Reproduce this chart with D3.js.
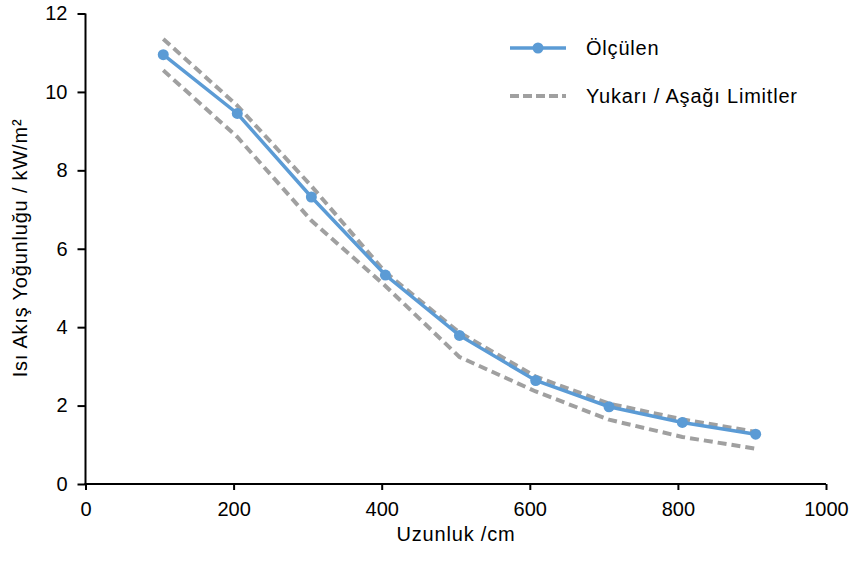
<!DOCTYPE html>
<html><head><meta charset="utf-8">
<script src="https://cdn.jsdelivr.net/npm/d3@7"></script>
<style>body{margin:0;background:#fff}svg{display:block}text{font-family:"Liberation Sans",Arial,sans-serif}</style>
</head><body>
<svg id="c" width="865" height="563"></svg>
<script>
const xVals = [105, 205, 305, 405, 505, 608, 707, 806, 905];
const measured = [10.95, 9.45, 7.32, 5.33, 3.79, 2.64, 1.97, 1.57, 1.27];
const upper = [11.35, 9.65, 7.6, 5.4, 3.86, 2.74, 2.05, 1.65, 1.33];
const lower = [10.55, 8.85, 6.72, 5.05, 3.24, 2.36, 1.64, 1.2, 0.9];
const xTicks = [0, 200, 400, 600, 800, 1000];
const yTicks = [0, 2, 4, 6, 8, 10, 12];
const legendLabels = ["Ölçülen", "Yukarı / Aşağı Limitler"];
const xTitle = "Uzunluk /cm";
const yTitle = "Isı Akış Yoğunluğu / kW/m²";

const svg = d3.select("#c");
const x = d3.scaleLinear().domain([0, 1000]).range([85.5, 826]);
const y = d3.scaleLinear().domain([0, 12]).range([484, 13.5]);
const blue = "#5B9BD5", gray = "#A0A0A0";
const FF = '"Liberation Sans",Arial,sans-serif';

const xa = svg.append("g").attr("transform", "translate(0,484)")
  .call(d3.axisBottom(x).tickValues(xTicks).tickSize(6).tickPadding(12).tickFormat(d3.format("d")));
const ya = svg.append("g").attr("transform", "translate(85.5,0)")
  .call(d3.axisLeft(y).tickValues(yTicks).tickSize(8).tickPadding(10).tickFormat(d3.format("d")));
[xa, ya].forEach(a => {
  a.attr("font-size", 20).attr("font-family", FF);
  a.select(".domain").attr("stroke", "#000").attr("stroke-width", 2);
  a.selectAll(".tick line").attr("stroke", "#000").attr("stroke-width", 2);
  a.selectAll(".tick text").attr("fill", "#000");
});
xa.select(".domain").attr("d", "M84.5,0H826");
ya.select(".domain").attr("d", "M0,485V13.5");

const line = d3.line().x((d, i) => x(xVals[i])).y(d => y(d));
[upper, lower].forEach(s => svg.append("path").attr("d", line(s)).attr("fill", "none")
  .attr("stroke", gray).attr("stroke-width", 4).attr("stroke-dasharray", "9,5"));
svg.append("path").attr("d", line(measured)).attr("fill", "none")
  .attr("stroke", blue).attr("stroke-width", 3.5);
svg.selectAll("circle.m").data(measured).enter().append("circle")
  .attr("cx", (d, i) => x(xVals[i])).attr("cy", d => y(d)).attr("r", 5.5).attr("fill", blue);

// legend
const lg = svg.append("g");
lg.append("line").attr("x1", 510).attr("x2", 566).attr("y1", 48).attr("y2", 48)
  .attr("stroke", blue).attr("stroke-width", 3.5);
lg.append("circle").attr("cx", 538).attr("cy", 48).attr("r", 5.5).attr("fill", blue);
lg.append("line").attr("x1", 510).attr("x2", 566).attr("y1", 96).attr("y2", 96)
  .attr("stroke", gray).attr("stroke-width", 4).attr("stroke-dasharray", "9,4");
lg.selectAll("text").data(legendLabels).enter().append("text")
  .attr("x", 586).attr("y", (d, i) => 55 + i * 48).attr("font-size", 20)
  .attr("letter-spacing", 0.8).attr("fill", "#000").text(d => d);

svg.append("text").attr("x", 456).attr("y", 541).attr("text-anchor", "middle")
  .attr("font-size", 20).attr("letter-spacing", 0.8).text(xTitle);
svg.append("text").attr("transform", "translate(27,248) rotate(-90)").attr("text-anchor", "middle")
  .attr("font-size", 20).attr("letter-spacing", 0.8).text(yTitle);
</script>
</body></html>
